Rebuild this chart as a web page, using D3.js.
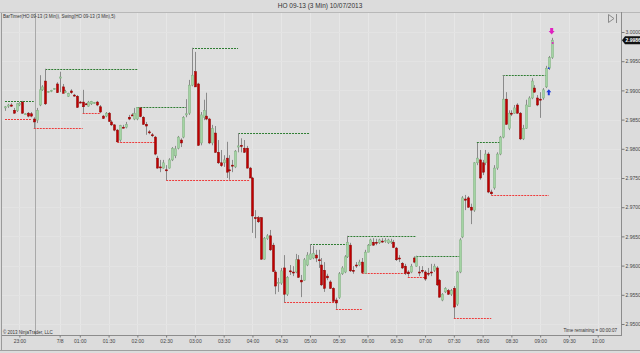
<!DOCTYPE html>
<html>
<head>
<meta charset="utf-8">
<script src="https://cdn.jsdelivr.net/npm/d3@7/dist/d3.min.js"></script>
<style>
  body { margin: 0; background: #dcdcdc; }
  svg { display: block; font-family: Arial, "Liberation Sans", sans-serif; }
</style>
</head>
<body>
<div id="chart"></div>
<script>
// HO 09-13, 3 min bars
const opens = [
  2.9870,2.9873,2.9875,2.9866,2.9865,2.9875,2.9880,2.9860,2.9861,2.9860,2.9851,
  2.9849,2.9875,2.9901,2.9916,2.9897,2.9899,2.9902,2.9911,2.9921,2.9906,2.9897,2.9890,2.9899,2.9892,2.9890,2.9880,2.9880,2.9877,2.9873,
  2.9877,2.9878,2.9880,2.9872,2.9856,2.9856,2.9861,2.9846,2.9841,2.9832,2.9815,2.9837,2.9837,2.9854,2.9858,2.9851,2.9851,2.9870,2.9854,2.9842,
  2.9829,2.9824,2.9820,2.9784,2.9769,2.9767,2.9764,2.9767,2.9781,2.9788,2.9801,2.9815,2.9820,2.9858,2.9861,2.9909,2.9932,2.9911,2.9810,2.9854,
  2.9856,2.9851,2.9810,2.9827,2.9794,2.9776,2.9776,2.9784,2.9764,2.9772,2.9769,2.9803,2.9806,2.9801,2.9801,2.9767,2.9750,2.9682,2.9682,2.9682,
  2.9611,2.9646,2.9651,2.9635,2.9589,2.9570,2.9570,2.9596,2.9551,2.9591,2.9589,2.9589,2.9610,2.9575,2.9575,2.9601,2.9611,2.9613,2.9618,2.9610,
  2.9601,2.9592,2.9582,2.9572,2.9561,2.9541,2.9545,2.9586,2.9589,2.9615,2.9635,2.9592,2.9601,2.9601,2.9606,2.9587,2.9623,2.9635,2.9640,2.9640,
  2.9639,2.9642,2.9642,2.9639,2.9640,2.9640,2.9630,2.9613,2.9604,2.9599,2.9589,2.9589,2.9613,2.9599,2.9589,2.9592,2.9589,2.9587,2.9589,2.9592,
  2.9596,2.9575,2.9541,2.9555,2.9557,2.9551,2.9561,2.9534,2.9589,2.9649,2.9714,2.9716,2.9700,2.9695,2.9776,2.9781,2.9776,2.9776,2.9791,2.9726,
  2.9733,2.9767,2.9791,2.9820,2.9885,2.9835,2.9861,2.9861,2.9875,2.9861,2.9817,2.9835,2.9872,2.9887,2.9904,2.9887,2.9885,2.9887,2.9906,2.9938,
  2.9956
];
const highs = [
  2.9873,2.9877,2.9878,2.9870,2.9878,2.9880,2.9882,2.9861,2.9863,2.9863,2.9854,
  2.9870,2.9926,2.9909,2.9937,2.9899,2.9901,2.9904,2.9914,2.9932,2.9911,2.9901,2.9896,2.9902,2.9894,2.9892,2.9882,2.9901,2.9878,2.9882,
  2.9882,2.9880,2.9882,2.9875,2.9858,2.9863,2.9863,2.9849,2.9842,2.9834,2.9841,2.9841,2.9846,2.9858,2.9861,2.9870,2.9871,2.9871,2.9856,2.9846,
  2.9832,2.9827,2.9822,2.9788,2.9781,2.9781,2.9772,2.9784,2.9803,2.9805,2.9822,2.9818,2.9856,2.9885,2.9918,2.9973,2.9966,2.9913,2.9863,2.9884,
  2.9896,2.9853,2.9841,2.9839,2.9815,2.9798,2.9789,2.9812,2.9789,2.9781,2.9798,2.9827,2.9818,2.9815,2.9805,2.9769,2.9752,2.9695,2.9685,2.9683,
  2.9649,2.9654,2.9661,2.9639,2.9592,2.9579,2.9596,2.9618,2.9582,2.9601,2.9599,2.9620,2.9618,2.9584,2.9613,2.9623,2.9637,2.9634,2.9627,2.9627,
  2.9613,2.9606,2.9586,2.9575,2.9563,2.9545,2.9589,2.9599,2.9618,2.9651,2.9639,2.9599,2.9606,2.9610,2.9613,2.9627,2.9637,2.9646,2.9647,2.9646,
  2.9646,2.9647,2.9647,2.9646,2.9646,2.9644,2.9632,2.9618,2.9606,2.9603,2.9592,2.9603,2.9616,2.9617,2.9599,2.9599,2.9592,2.9596,2.9603,2.9603,
  2.9599,2.9577,2.9553,2.9563,2.9560,2.9560,2.9565,2.9591,2.9647,2.9719,2.9721,2.9719,2.9706,2.9777,2.9810,2.9798,2.9781,2.9798,2.9794,2.9730,
  2.9772,2.9794,2.9822,2.9926,2.9897,2.9866,2.9866,2.9875,2.9878,2.9863,2.9841,2.9884,2.9890,2.9921,2.9909,2.9892,2.9897,2.9904,2.9942,2.9959,
  2.9990
];
const lows = [
  2.9865,2.9870,2.9872,2.9860,2.9863,2.9873,2.9860,2.9858,2.9854,2.9854,2.9835,
  2.9844,2.9873,2.9899,2.9875,2.9896,2.9897,2.9901,2.9896,2.9897,2.9896,2.9896,2.9889,2.9894,2.9889,2.9870,2.9878,2.9861,2.9875,2.9872,
  2.9875,2.9877,2.9873,2.9861,2.9851,2.9854,2.9846,2.9839,2.9830,2.9811,2.9812,2.9835,2.9835,2.9849,2.9856,2.9849,2.9849,2.9854,2.9841,2.9824,
  2.9825,2.9820,2.9789,2.9766,2.9760,2.9766,2.9746,2.9766,2.9779,2.9784,2.9799,2.9803,2.9818,2.9854,2.9858,2.9907,2.9906,2.9805,2.9806,2.9849,
  2.9849,2.9808,2.9806,2.9793,2.9774,2.9769,2.9769,2.9750,2.9747,2.9760,2.9767,2.9794,2.9794,2.9793,2.9766,2.9750,2.9656,2.9647,2.9673,2.9610,
  2.9610,2.9644,2.9625,2.9589,2.9551,2.9555,2.9567,2.9537,2.9548,2.9584,2.9582,2.9587,2.9579,2.9546,2.9574,2.9599,2.9610,2.9611,2.9606,2.9596,
  2.9565,2.9555,2.9575,2.9560,2.9538,2.9526,2.9543,2.9584,2.9587,2.9613,2.9589,2.9586,2.9596,2.9599,2.9587,2.9586,2.9623,2.9634,2.9634,2.9635,
  2.9637,2.9639,2.9639,2.9637,2.9637,2.9630,2.9608,2.9606,2.9594,2.9584,2.9581,2.9587,2.9604,2.9598,2.9582,2.9587,2.9574,2.9582,2.9582,2.9589,
  2.9565,2.9545,2.9539,2.9553,2.9550,2.9548,2.9510,2.9531,2.9587,2.9647,2.9695,2.9699,2.9671,2.9692,2.9772,2.9747,2.9755,2.9772,2.9724,2.9721,
  2.9730,2.9764,2.9789,2.9818,2.9841,2.9832,2.9856,2.9860,2.9860,2.9815,2.9815,2.9834,2.9872,2.9885,2.9896,2.9873,2.9853,2.9884,2.9904,2.9935,
  2.9954
];
const closes = [
  2.9872,2.9875,2.9873,2.9861,2.9877,2.9878,2.9861,2.9860,2.9856,2.9856,2.9846,
  2.9866,2.9901,2.9906,2.9877,2.9898,2.9900,2.9903,2.9896,2.9923,2.9895,2.9898,2.9895,2.9896,2.9891,2.9871,2.9879,2.9872,2.9876,2.9880,
  2.9881,2.9879,2.9875,2.9863,2.9852,2.9861,2.9847,2.9841,2.9832,2.9812,2.9840,2.9836,2.9842,2.9851,2.9857,2.9861,2.9871,2.9855,2.9842,2.9839,
  2.9828,2.9823,2.9791,2.9767,2.9768,2.9776,2.9763,2.9781,2.9801,2.9800,2.9820,2.9810,2.9854,2.9860,2.9909,2.9926,2.9906,2.9806,2.9858,2.9866,
  2.9851,2.9810,2.9835,2.9794,2.9776,2.9771,2.9781,2.9760,2.9763,2.9771,2.9796,2.9805,2.9804,2.9794,2.9767,2.9750,2.9685,2.9681,2.9675,2.9611,
  2.9647,2.9651,2.9627,2.9590,2.9565,2.9571,2.9591,2.9551,2.9580,2.9590,2.9588,2.9610,2.9580,2.9572,2.9610,2.9618,2.9620,2.9621,2.9613,2.9609,
  2.9567,2.9561,2.9579,2.9561,2.9539,2.9536,2.9586,2.9596,2.9615,2.9640,2.9591,2.9591,2.9600,2.9606,2.9588,2.9623,2.9635,2.9644,2.9635,2.9639,
  2.9644,2.9641,2.9643,2.9644,2.9641,2.9631,2.9610,2.9612,2.9596,2.9587,2.9586,2.9599,2.9606,2.9615,2.9588,2.9591,2.9577,2.9586,2.9588,2.9599,
  2.9567,2.9546,2.9551,2.9561,2.9551,2.9557,2.9529,2.9589,2.9644,2.9716,2.9712,2.9700,2.9695,2.9776,2.9784,2.9750,2.9760,2.9791,2.9726,2.9723,
  2.9767,2.9791,2.9820,2.9885,2.9842,2.9861,2.9860,2.9870,2.9861,2.9817,2.9835,2.9875,2.9887,2.9916,2.9897,2.9875,2.9884,2.9901,2.9938,2.9956,
  2.9986
];

// swing lines: [startBar, endBar, price]
const swingHighs = [[0,10,2.9881],[14,46,2.9936],[46,63,2.9871],[65,81,2.9973],[81,106,2.9827],
  [106,119,2.9637],[119,143,2.9651],[143,158,2.9617],[164,172,2.9811],[173,188,2.9926]];
const swingLows = [[0,9,2.9851],[10,27,2.9836],[27,33,2.9861],[39,52,2.9811],[56,85,2.9746],
  [97,115,2.9537],[115,124,2.9526],[124,140,2.9587],[140,146,2.9581],[156,169,2.9511],[169,189,2.9721]];

const priceTicks = [2.95,2.955,2.96,2.965,2.97,2.975,2.98,2.985,2.99,2.995,3.0];
const timeTicks = [5,19,26,36,46,56,66,76,86,96,106,116,126,136,146,156,166,176,186,196,206];
const timeLabels = ["23:00","7/8","01:00","01:30","02:00","02:30","03:00","03:30","04:00","04:30","05:00",
  "05:30","06:00","06:30","07:00","07:30","08:00","08:30","09:00","09:30","10:00"];
const sessionBreak = 10.5;
const lastPrice = 2.9986;

const width = 640, height = 353;
const plot = { left: 2, right: 621, top: 12, bottom: 335 };

const svg = d3.select("#chart").append("svg")
  .attr("width", width)
  .attr("height", height);

const x = d3.scaleLinear().domain([0, 206]).range([5, 597.7]);
const y = d3.scaleLinear().domain([2.95, 3.0]).range([324, 32]);

// background + frame
svg.append("rect").attr("width", width).attr("height", height).attr("fill", "#dcdcdc");
svg.append("rect")
  .attr("x", plot.left).attr("y", plot.top)
  .attr("width", plot.right - plot.left).attr("height", plot.bottom - plot.top)
  .attr("fill", "#dedede");

// faint grid
svg.append("g").selectAll("line").data(timeTicks).enter().append("line")
  .attr("x1", d => Math.round(x(d)) + 0.5).attr("x2", d => Math.round(x(d)) + 0.5)
  .attr("y1", plot.top).attr("y2", plot.bottom)
  .attr("stroke", "#e6e6e6");
svg.append("g").selectAll("line").data(priceTicks).enter().append("line")
  .attr("x1", plot.left).attr("x2", plot.right)
  .attr("y1", d => Math.round(y(d)) + 0.5).attr("y2", d => Math.round(y(d)) + 0.5)
  .attr("stroke", "#e3e3e3");

// session break
svg.append("line")
  .attr("x1", Math.round(x(sessionBreak)) + 0.5).attr("x2", Math.round(x(sessionBreak)) + 0.5)
  .attr("y1", plot.top).attr("y2", plot.bottom)
  .attr("stroke", "#a9a9a9");

// frame lines
svg.append("line").attr("x1", 1.5).attr("x2", 1.5).attr("y1", plot.top).attr("y2", 350).attr("stroke", "#9a9a9a");
svg.append("line").attr("x1", 0).attr("x2", width).attr("y1", plot.top + 0.5).attr("y2", plot.top + 0.5).attr("stroke", "#b8b8b8");
svg.append("line").attr("x1", plot.right + 0.5).attr("x2", plot.right + 0.5).attr("y1", plot.top).attr("y2", plot.bottom).attr("stroke", "#8c8c8c");
svg.append("line").attr("x1", plot.left).attr("x2", plot.right + 1).attr("y1", plot.bottom + 0.5).attr("y2", plot.bottom + 0.5).attr("stroke", "#8c8c8c");
svg.append("line").attr("x1", 0).attr("x2", width).attr("y1", 350.5).attr("y2", 350.5).attr("stroke", "#a0a0a0");

// swing lines
const swings = svg.append("g");
swings.selectAll(".sh").data(swingHighs).enter().append("line")
  .attr("x1", d => x(d[0])).attr("x2", d => x(d[1]))
  .attr("y1", d => Math.round(y(d[2])) + 0.5).attr("y2", d => Math.round(y(d[2])) + 0.5)
  .attr("stroke", "#2e7d32").attr("stroke-dasharray", "2,1");
swings.selectAll(".sl").data(swingLows).enter().append("line")
  .attr("x1", d => x(d[0])).attr("x2", d => x(d[1]))
  .attr("y1", d => Math.round(y(d[2])) + 0.5).attr("y2", d => Math.round(y(d[2])) + 0.5)
  .attr("stroke", "#ee3b3b").attr("stroke-dasharray", "2,1");

// candles
const bars = d3.range(opens.length).map(i => ({ i, o: opens[i], h: highs[i], l: lows[i], c: closes[i] }));
const cg = svg.append("g");
cg.selectAll(".wick").data(bars).enter().append("line")
  .attr("x1", d => Math.round(x(d.i)) + 0.5).attr("x2", d => Math.round(x(d.i)) + 0.5)
  .attr("y1", d => y(d.h)).attr("y2", d => y(d.l))
  .attr("stroke", "#8a8a8a");
cg.selectAll(".body").data(bars).enter().append("rect")
  .attr("x", d => Math.round(x(d.i)) - 0.5)
  .attr("y", d => y(Math.max(d.o, d.c)))
  .attr("width", 2)
  .attr("height", d => Math.max(1, Math.abs(y(d.o) - y(d.c))))
  .attr("fill", d => d.c >= d.o ? "#a3d4a3" : "#c00000")
  .attr("stroke", d => d.c >= d.o ? "#7fae7f" : "#8a0000")
  .attr("stroke-width", 0.5);

// markers on the last bars
const last = opens.length - 1;
svg.append("path")
  .attr("d", `M${x(last) - 1.5},${y(3.0) - 4} h3 v3 h1.5 l-3,3.5 l-3,-3.5 h1.5 z`)
  .attr("fill", "#e020c0");
svg.append("circle").attr("cx", x(last) + 1).attr("cy", y(2.9981)).attr("r", 1).attr("fill", "#e020c0");
svg.append("path")
  .attr("d", `M${x(last - 1)},${y(2.9897) - 3} l2.5,3 h-1.5 v3 h-2 v-3 h-1.5 z`)
  .attr("fill", "#1e3cd8");
svg.append("circle").attr("cx", x(last - 1)).attr("cy", y(2.9938)).attr("r", 0.9).attr("fill", "#1e3cd8");

// price axis
const yAxis = svg.append("g")
  .attr("transform", `translate(${plot.right + 0.5},0)`)
  .call(d3.axisRight(y).tickValues(priceTicks).tickFormat(d3.format(".4f")).tickSize(3).tickPadding(1));
yAxis.select(".domain").remove();
yAxis.selectAll("line").attr("stroke", "#7a7a7a");
yAxis.selectAll("text").attr("font-size", 5).attr("fill", "#444").attr("font-family", "Arial, Liberation Sans, sans-serif");

// current price tag
const tagY = y(lastPrice);
svg.append("path")
  .attr("d", `M${plot.right + 1},${tagY} l3,-4 h15 v8 h-15 z`)
  .attr("fill", "#111");
svg.append("text").attr("x", plot.right + 4.5).attr("y", tagY + 2)
  .attr("font-size", 5).attr("font-weight", "bold").attr("fill", "#fff")
  .text(d3.format(".4f")(lastPrice));

// time axis
const xAxis = svg.append("g")
  .attr("transform", `translate(0,${plot.bottom + 0.5})`)
  .call(d3.axisBottom(x).tickValues(timeTicks).tickFormat((d, i) => timeLabels[i]).tickSize(2).tickPadding(2));
xAxis.select(".domain").remove();
xAxis.selectAll("line").attr("stroke", "#7a7a7a");
xAxis.selectAll("text").attr("font-size", 5).attr("fill", "#444").attr("font-family", "Arial, Liberation Sans, sans-serif");

// texts
svg.append("text").attr("x", 320).attr("y", 8).attr("text-anchor", "middle")
  .attr("font-size", 6.5).attr("fill", "#333").text("HO 09-13 (3 Min)  10/07/2013");
svg.append("text").attr("x", 3).attr("y", 18)
  .attr("font-size", 4.5).attr("fill", "#333")
  .text("BarTimer(HO 09-13 (3 Min)), Swing(HO 09-13 (3 Min),5)");
svg.append("text").attr("x", 3).attr("y", 334)
  .attr("font-size", 4.5).attr("fill", "#333").text("© 2013 NinjaTrader, LLC");
svg.append("text").attr("x", 617).attr("y", 332).attr("text-anchor", "end")
  .attr("font-size", 4.5).attr("fill", "#333").text("Time remaining = 00:00:07");

// close button glyph
svg.append("path")
  .attr("d", "M608.5,14.5 L614,18.5 L608.5,22.5 Z M616.5,14 V23")
  .attr("fill", "none").attr("stroke", "#8a8a8a");
</script>
</body>
</html>
